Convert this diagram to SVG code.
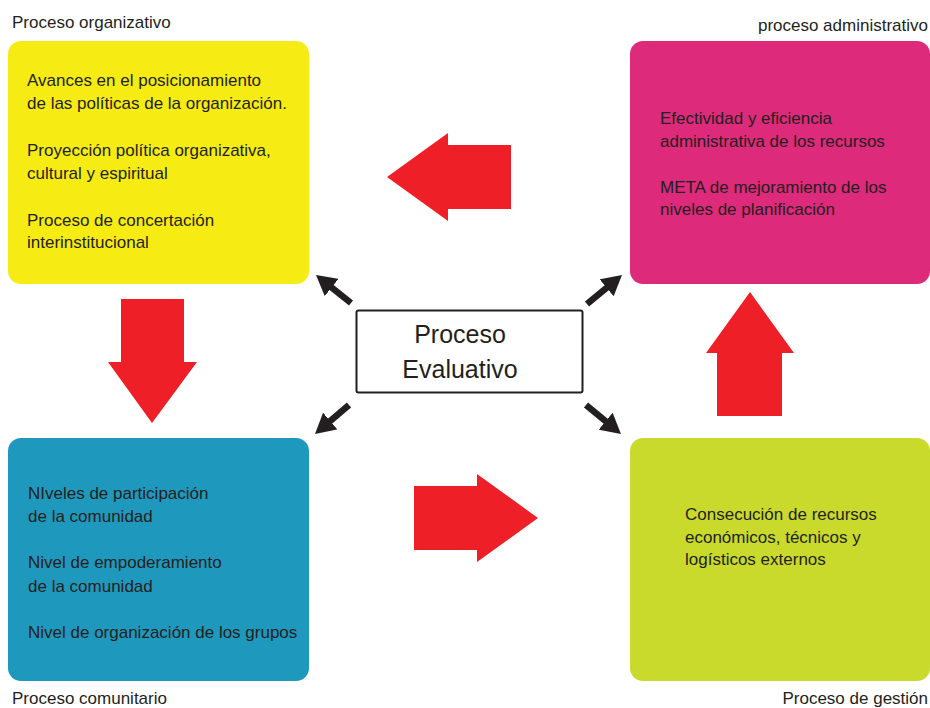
<svg xmlns="http://www.w3.org/2000/svg" width="930" height="708" viewBox="0 0 930 708">
<style>
text{font-family:"Liberation Sans",Arial,sans-serif;fill:#231F20;font-size:17px}
.c{font-size:25px;text-anchor:middle}
.r{text-anchor:end}
.red{fill:#EE1F26}
.blk{stroke:#231F20;stroke-width:6.5;fill:none}
</style>
<defs>
<marker id="ah" viewBox="0 0 20 22" markerWidth="20" markerHeight="22" markerUnits="userSpaceOnUse" refX="10" refY="11" orient="auto">
<path d="M0,0 L20,11 L0,22 z" fill="#231F20"/>
</marker>
</defs>
<rect width="930" height="708" fill="#fff"/>

<g id="organizativo">
<rect x="8" y="41" width="301" height="243" rx="13" fill="#F6EC13"/>
<text x="12" y="28">Proceso organizativo</text>
<text x="27" y="86">Avances en el posicionamiento</text>
<text x="27" y="109">de las políticas de la organización.</text>
<text x="27" y="156">Proyección política organizativa,</text>
<text x="27" y="179">cultural y espiritual</text>
<text x="27" y="226">Proceso de concertación</text>
<text x="27" y="248">interinstitucional</text>
</g>

<g id="administrativo">
<rect x="630" y="41" width="300" height="243" rx="13" fill="#DD2A7B"/>
<text class="r" x="928" y="31">proceso administrativo</text>
<text x="660" y="124">Efectividad y eficiencia</text>
<text x="660" y="147">administrativa de los recursos</text>
<text x="660" y="193">META de mejoramiento de los</text>
<text x="660" y="215">niveles de planificación</text>
</g>

<g id="comunitario">
<rect x="8" y="438" width="301" height="243" rx="13" fill="#1F98BD"/>
<text x="28" y="499">NIveles de participación</text>
<text x="28" y="522">de la comunidad</text>
<text x="28" y="568">Nivel de empoderamiento</text>
<text x="28" y="592">de la comunidad</text>
<text x="28" y="638">Nivel de organización de los grupos</text>
<text x="12" y="704">Proceso comunitario</text>
</g>

<g id="gestion">
<rect x="630" y="438" width="300" height="243" rx="13" fill="#C9DA2C"/>
<text x="685" y="520">Consecución de recursos</text>
<text x="685" y="543">económicos, técnicos y</text>
<text x="685" y="565">logísticos externos</text>
<text class="r" x="928" y="704">Proceso de gestión</text>
</g>

<g id="evaluativo">
<rect x="356.5" y="310.5" width="226" height="82" rx="2" fill="#fff" stroke="#231F20" stroke-width="2"/>
<text class="c" x="460" y="343">Proceso</text>
<text class="c" x="460" y="378">Evaluativo</text>
</g>

<g id="connectors">
<path class="red" d="M121,299 L184,299 L184,362 L197,362 L152,423 L108,362 L121,362 z"/>
<path class="red" d="M511,145 L511,209 L448,209 L448,221 L387,177 L448,133 L448,145 z"/>
<path class="red" d="M414,486 L477,486 L477,474 L538,518 L477,562 L477,550 L414,550 z"/>
<path class="red" d="M717,416 L782,416 L782,353 L794,353 L750,292 L706,353 L717,353 z"/>
<line class="blk" x1="351" y1="303" x2="323.8" y2="281.3" marker-end="url(#ah)"/>
<line class="blk" x1="587" y1="304" x2="614.3" y2="281.4" marker-end="url(#ah)"/>
<line class="blk" x1="349" y1="405" x2="322.6" y2="427.5" marker-end="url(#ah)"/>
<line class="blk" x1="586" y1="405" x2="613.3" y2="427.6" marker-end="url(#ah)"/>
</g>
</svg>
